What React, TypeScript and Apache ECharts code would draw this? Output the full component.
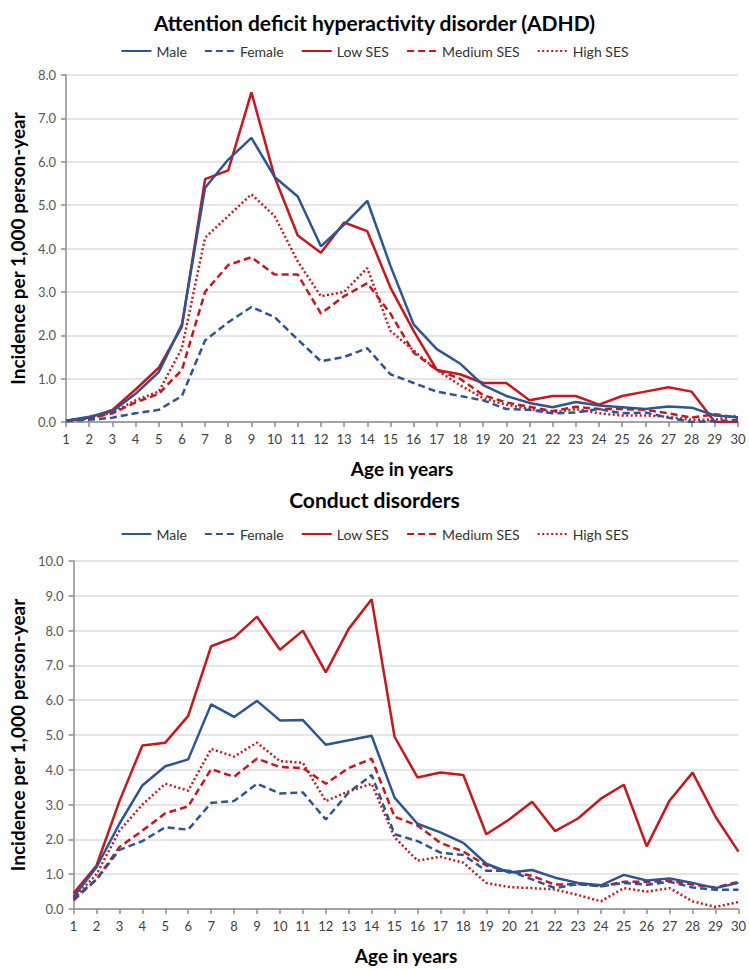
import React, { useEffect, useRef } from "react";
import * as echarts from "echarts";

const ages = ["1","2","3","4","5","6","7","8","9","10","11","12","13","14","15","16","17","18","19","20","21","22","23","24","25","26","27","28","29","30"];
const seriesNames = ["Male", "Female", "Low SES", "Medium SES", "High SES"];
const titles = ["Attention deficit hyperactivity disorder (ADHD)", "Conduct disorders"];
const yAxisName = "Incidence per 1,000 person-year";
const xAxisName = "Age in years";
const adhdMax = 8;
const conductMax = 10;

// ADHD
const adhdMale = [0.03,0.12,0.25,0.65,1.15,2.25,5.4,6.05,6.55,5.65,5.2,4.05,4.55,5.1,3.6,2.25,1.68,1.35,0.85,0.6,0.44,0.34,0.46,0.38,0.34,0.3,0.36,0.33,0.15,0.11];
const adhdFemale = [0.02,0.05,0.1,0.2,0.28,0.6,1.88,2.3,2.65,2.42,1.9,1.4,1.5,1.7,1.1,0.9,0.7,0.6,0.5,0.3,0.28,0.2,0.22,0.3,0.2,0.22,0.1,0.0,0.02,0.05];
const adhdLow = [0.03,0.1,0.28,0.75,1.25,2.2,5.6,5.8,7.6,5.65,4.3,3.9,4.6,4.4,3.1,2.1,1.2,1.1,0.9,0.9,0.5,0.6,0.6,0.4,0.6,0.7,0.8,0.7,0.0,0.0];
const adhdMedium = [0.03,0.08,0.2,0.45,0.65,1.2,3.0,3.62,3.8,3.4,3.4,2.5,2.9,3.2,2.5,1.6,1.2,1.0,0.62,0.45,0.35,0.25,0.35,0.3,0.3,0.28,0.2,0.1,0.18,0.1];
const adhdHigh = [0.03,0.08,0.22,0.5,0.7,1.7,4.25,4.75,5.25,4.75,3.7,2.9,3.0,3.55,2.1,1.65,1.2,0.85,0.55,0.4,0.3,0.22,0.3,0.2,0.15,0.15,0.12,0.05,0.05,0.15];

// Conduct disorders
const cdMale = [0.35,1.2,2.45,3.55,4.1,4.3,5.88,5.52,5.98,5.42,5.43,4.72,4.85,4.98,3.2,2.45,2.2,1.9,1.3,1.05,1.12,0.9,0.75,0.68,0.98,0.82,0.88,0.75,0.6,0.75];
const cdFemale = [0.3,0.85,1.7,1.95,2.35,2.28,3.05,3.1,3.6,3.32,3.35,2.57,3.35,3.85,2.15,1.95,1.62,1.55,1.1,1.1,0.85,0.6,0.72,0.65,0.75,0.7,0.78,0.62,0.55,0.55];
const cdLow = [0.45,1.25,3.1,4.7,4.78,5.55,7.55,7.8,8.4,7.45,8.0,6.8,8.05,8.9,4.95,3.78,3.92,3.85,2.15,2.57,3.08,2.24,2.6,3.17,3.57,1.8,3.12,3.92,2.65,1.65];
const cdMedium = [0.25,0.85,1.78,2.25,2.75,2.95,4.02,3.8,4.32,4.08,4.05,3.6,4.05,4.32,2.65,2.4,1.9,1.65,1.25,1.08,0.95,0.7,0.72,0.65,0.78,0.78,0.82,0.7,0.62,0.78];
const cdHigh = [0.3,1.0,2.25,3.0,3.6,3.4,4.6,4.38,4.78,4.25,4.2,3.1,3.38,3.6,2.06,1.39,1.5,1.33,0.75,0.63,0.6,0.56,0.4,0.22,0.6,0.5,0.6,0.22,0.06,0.2];

const BLUE = "#2B5593";
const RED = "#C8161D";

export default function App() {
  const ref = useRef<HTMLDivElement>(null);
  useEffect(() => {
    if (!ref.current) return;
    const chart = echarts.init(ref.current, null, { renderer: "svg" });
    const font = "Lato, 'Liberation Sans', Arial, sans-serif";
    const styles: Record<string, { color: string; type: any }> = {
      "Male": { color: BLUE, type: "solid" },
      "Female": { color: BLUE, type: [7, 4] },
      "Low SES": { color: RED, type: "solid" },
      "Medium SES": { color: RED, type: [7, 4] },
      "High SES": { color: RED, type: [2, 2.5] },
    };
    const panels = [
      { data: [adhdMale, adhdFemale, adhdLow, adhdMedium, adhdHigh], max: adhdMax },
      { data: [cdMale, cdFemale, cdLow, cdMedium, cdHigh], max: conductMax },
    ];
    const grids = [
      { left: 58, right: 11, top: 75, height: 347 },
      { left: 66, right: 10, top: 561, height: 348 },
    ];
    const series: any[] = [];
    panels.forEach((p, gi) => {
      p.data.forEach((d, si) => {
        const name = seriesNames[si];
        series.push({
          type: "line",
          name,
          xAxisIndex: gi,
          yAxisIndex: gi,
          data: d,
          symbol: "none",
          lineStyle: { color: styles[name].color, type: styles[name].type, width: 2.5, cap: "butt" },
          itemStyle: { color: styles[name].color },
          z: 10 - si,
        });
      });
    });
    const axisLineColor = "#8C8C8C";
    const option: any = {
      animation: false,
      backgroundColor: "#ffffff",
      textStyle: { fontFamily: font },
      title: [
        { text: titles[0], left: "center", top: 7, textStyle: { fontFamily: font, fontSize: 21, fontWeight: "bold", color: "#000" } },
        { text: titles[1], left: "center", top: 484, textStyle: { fontFamily: font, fontSize: 21, fontWeight: "bold", color: "#000" } },
      ],
      legend: [0, 1].map((i) => ({
        data: seriesNames,
        top: i === 0 ? 39 : 522,
        left: "center",
        itemWidth: 30,
        itemHeight: 10,
        itemGap: 17,
        itemStyle: { color: "transparent", borderColor: "transparent", borderWidth: 0, opacity: 0 },
        textStyle: { fontFamily: font, fontSize: 14, color: "#333" },
        selectedMode: false,
      })),
      grid: grids,
      xAxis: [0, 1].map((i) => ({
        type: "category",
        gridIndex: i,
        data: ages,
        boundaryGap: false,
        axisLine: { show: true, lineStyle: { color: axisLineColor, width: 1.5 } },
        axisTick: { show: true, length: 5, lineStyle: { color: axisLineColor, width: 1.5 } },
        axisLabel: { interval: 0, color: "#404040", fontSize: 13, fontFamily: font, margin: 10 },
        splitLine: { show: false },
        name: xAxisName,
        nameLocation: "middle",
        nameGap: 37,
        nameTextStyle: { fontFamily: font, fontSize: 19, fontWeight: "bold", color: "#000" },
      })),
      yAxis: panels.map((p, i) => ({
        type: "value",
        gridIndex: i,
        min: 0,
        max: p.max,
        interval: 1,
        axisLine: { show: true, lineStyle: { color: axisLineColor, width: 1.5 } },
        axisTick: { show: true, length: 5, lineStyle: { color: axisLineColor, width: 1.5 } },
        axisLabel: { color: "#595959", fontSize: 13, fontFamily: font, margin: 10, formatter: (v: number) => v.toFixed(1) },
        splitLine: { show: true, lineStyle: { color: "#DCDCDC", width: 1.5 } },
        name: yAxisName,
        nameLocation: "middle",
        nameGap: i === 0 ? 38 : 46,
        nameRotate: 90,
        nameTextStyle: { fontFamily: font, fontSize: 19, fontWeight: "bold", color: "#000" },
      })),
      series,
    };
    chart.setOption(option);
    return () => chart.dispose();
  }, []);
  return (
    <div
      ref={ref}
      style={{ position: "absolute", left: 0, top: 0, width: 749, height: 969, background: "#fff" }}
    />
  );
}
